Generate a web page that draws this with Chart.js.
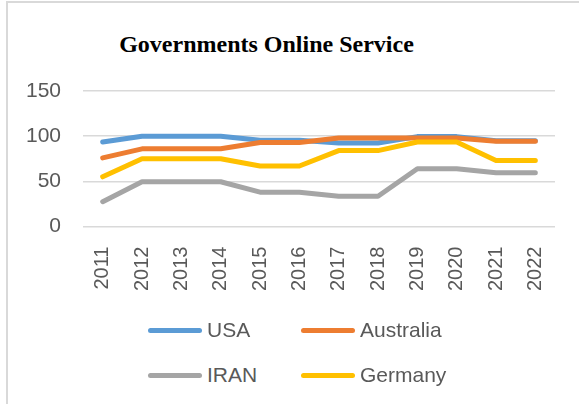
<!DOCTYPE html>
<html>
<head>
<meta charset="utf-8">
<script src="https://cdn.jsdelivr.net/npm/chart.js@4"></script>
<style>
  body { margin: 0; background: #fff; }
  #wrap { position: relative; width: 579px; height: 404px; overflow: hidden; }
  #frame {
    position: absolute; left: 6px; top: 1px; width: 600px; height: 420px;
    border-left: 2px solid #d9d9d9; border-top: 2px solid #d9d9d9;
  }
  #title {
    position: absolute; left: 0; top: 29px; width: 533px; text-align: center;
    font: bold 24px "Liberation Serif", "Times New Roman", serif; color: #000;
    line-height: 30px;
  }
  #chart { position: absolute; left: 0; top: 0; }
  .item { position: absolute; display: flex; align-items: center; height: 26px; }
  .item .swatch { width: 54px; height: 5px; border-radius: 3px; margin-right: 5px; }
  .item span { font: 21px "Liberation Sans", Arial, sans-serif; color: #595959; }
</style>
</head>
<body>
<div id="wrap">
  <div id="frame"></div>
  <div id="title">Governments Online Service</div>
  <canvas id="chart" width="579" height="319"></canvas>
  <div id="legend"></div>
</div>
<script>
// ============================
// Data
// ============================
const years = ["2011", "2012", "2013", "2014", "2015", "2016", "2017", "2018", "2019", "2020", "2021", "2022"];
const usa = [93.5, 100, 100, 100, 95.5, 95.5, 92.5, 92.5, 99.5, 99.5, 95, 95];
const australia = [76, 86, 86, 86, 93, 93, 98, 98, 98, 98, 94.5, 94.5];
const iran = [27.5, 49.5, 49.5, 49.5, 38, 38, 33.5, 33.5, 64, 64, 59.5, 59.5];
const germany = [55, 75, 75, 75, 67, 67, 84, 84, 93.5, 93.5, 73, 73];
const yTicks = [0, 50, 100, 150];

const seriesNames = ["USA", "Australia", "IRAN", "Germany"];
const seriesData = [usa, australia, iran, germany];
const seriesColors = ["#5B9BD5", "#ED7D31", "#A5A5A5", "#FFC000"];

// ============================
// Chart
// ============================
document.addEventListener("DOMContentLoaded", function () {
    const datasets = seriesNames.map(function (name, i) {
        return {
            label: name,
            data: seriesData[i],
            borderColor: seriesColors[i],
            backgroundColor: seriesColors[i],
            borderWidth: 5,
            borderCapStyle: "round",
            borderJoinStyle: "round",
            pointRadius: 0,
            tension: 0,
            order: seriesNames.length - i
        };
    });

    new Chart(document.getElementById("chart"), {
        type: "line",
        data: { labels: years, datasets: datasets },
        options: {
            responsive: false,
            animation: false,
            layout: { padding: { left: 4, right: 24, top: 91, bottom: 16 } },
            plugins: {
                legend: { display: false },
                title: { display: false },
                tooltip: { enabled: false }
            },
            scales: {
                x: {
                    offset: true,
                    grid: { display: false },
                    border: { display: false },
                    ticks: {
                        minRotation: 90,
                        maxRotation: 90,
                        padding: 12,
                        color: "#595959",
                        font: { family: "Liberation Sans", size: 20 }
                    }
                },
                y: {
                    min: yTicks[0],
                    max: yTicks[yTicks.length - 1],
                    afterBuildTicks: function (axis) {
                        axis.ticks = yTicks.map(v => ({ value: v }));
                    },
                    grid: { color: "#d9d9d9", lineWidth: 1.5, drawTicks: false },
                    border: { display: false },
                    ticks: {
                        padding: 22,
                        color: "#595959",
                        font: { family: "Liberation Sans", size: 21 }
                    }
                }
            }
        }
    });

    // ========================
    // Legend (two columns)
    // ========================
    const legend = document.getElementById("legend");
    const colX = [148, 301];
    const rowY = [317, 362];
    seriesNames.forEach(function (name, i) {
        const item = document.createElement("div");
        item.className = "item";
        item.style.left = colX[i % 2] + "px";
        item.style.top = rowY[Math.floor(i / 2)] + "px";
        item.innerHTML = '<div class="swatch" style="background:' + seriesColors[i] + '"></div><span>' + name + '</span>';
        legend.appendChild(item);
    });
});
</script>
</body>
</html>
